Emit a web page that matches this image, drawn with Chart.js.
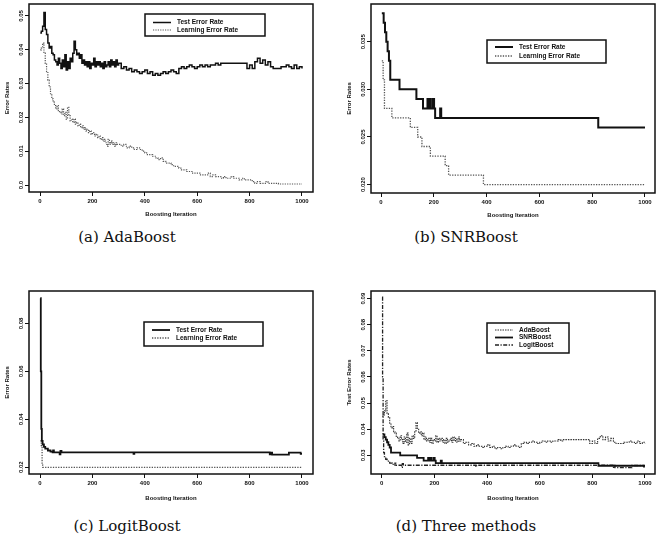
<!DOCTYPE html>
<html>
<head>
<meta charset="utf-8">
<script src="https://cdn.jsdelivr.net/npm/chart.js@4.4.0/dist/chart.umd.min.js"></script>
<style>
  body { margin: 0; background: #fff; }
  #page { position: relative; width: 664px; height: 542px; overflow: hidden; }
  canvas { position: absolute; }
  .cap { position: absolute; width: 240px; text-align: center; font: 15px "DejaVu Serif"; line-height: 1; color: #111; }
</style>
</head>
<body>
<div id="page">
  <canvas id="chartA" width="330" height="225" style="left:0;top:0"></canvas>
  <canvas id="chartB" width="322" height="225" style="left:342px;top:0"></canvas>
  <canvas id="chartC" width="330" height="225" style="left:0;top:280px"></canvas>
  <canvas id="chartD" width="322" height="225" style="left:342px;top:280px"></canvas>
  <div class="cap" style="left:7px;top:230px">(a) AdaBoost</div>
  <div class="cap" style="left:346px;top:230px">(b) SNRBoost</div>
  <div class="cap" style="left:7px;top:519px">(c) LogitBoost</div>
  <div class="cap" style="left:346px;top:519px">(d) Three methods</div>
</div>
<script>
// boosting iterations sampled for the AdaBoost curves (denser early on)
const iterAda = [
  1, 5, 10, 15, 20, 25, 30, 35, 40, 45, 50, 55, 60, 65, 70, 75, 80, 85, 90, 95,
  100, 105, 110, 115, 120, 125, 130, 135, 140, 145, 150, 155, 160, 165, 170, 175, 180, 185, 190, 195,
  200, 205, 210, 215, 220, 225, 230, 235, 240, 245, 250, 255, 260, 265, 270, 275, 280, 285, 290, 295,
  300, 310, 320, 330, 340, 350, 360, 370, 380, 390,
  400, 410, 420, 430, 440, 450, 460, 470, 480, 490,
  500, 510, 520, 530, 540, 550, 560, 570, 580, 590,
  600, 610, 620, 630, 640, 650, 660, 670, 680, 690,
  700, 710, 720, 730, 740, 750, 760, 770, 780, 790,
  800, 810, 820, 830, 840, 850, 860, 870, 880, 890,
  900, 910, 920, 930, 940, 950, 960, 970, 980, 990,
  1000
];
const adaTest = [
  0.045, 0.0455, 0.047, 0.051, 0.046, 0.0445, 0.042, 0.0405, 0.041, 0.039, 0.0385, 0.037, 0.0365, 0.0355, 0.0375, 0.036, 0.0345, 0.037, 0.035, 0.0385,
  0.034, 0.0365, 0.0345, 0.0375, 0.0365, 0.039, 0.0425, 0.040, 0.0385, 0.039, 0.0375, 0.0385, 0.036, 0.037, 0.0355, 0.0365, 0.035, 0.0365, 0.0345, 0.036,
  0.0355, 0.0375, 0.035, 0.0365, 0.0355, 0.0365, 0.035, 0.036, 0.0345, 0.0365, 0.035, 0.0355, 0.0365, 0.035, 0.037, 0.0355, 0.0365, 0.035, 0.037, 0.0355,
  0.036, 0.0345, 0.035, 0.034, 0.0345, 0.0335, 0.034, 0.0335, 0.033, 0.0335,
  0.034, 0.033, 0.0335, 0.0325, 0.033, 0.0325, 0.033, 0.0335, 0.033, 0.0335,
  0.034, 0.0335, 0.033, 0.0345, 0.035, 0.0345, 0.035, 0.0355, 0.035, 0.0345,
  0.035, 0.0355, 0.035, 0.0355, 0.035, 0.0355, 0.0355, 0.036, 0.0355, 0.036,
  0.036, 0.036, 0.036, 0.036, 0.036, 0.036, 0.036, 0.036, 0.036, 0.0345,
  0.0355, 0.0345, 0.0365, 0.0375, 0.036, 0.037, 0.0355, 0.0365, 0.035, 0.0345,
  0.0345, 0.0345, 0.035, 0.035, 0.0355, 0.035, 0.0345, 0.0355, 0.0345, 0.035,
  0.0345
];
const adaLearn = [
  0.040, 0.0405, 0.042, 0.039, 0.036, 0.0335, 0.031, 0.029, 0.027, 0.0255, 0.0245, 0.0235, 0.0225, 0.0235, 0.022, 0.0215, 0.021, 0.0225, 0.0205, 0.0215,
  0.0195, 0.023, 0.0205, 0.019, 0.0195, 0.0185, 0.0195, 0.018, 0.0185, 0.0175, 0.018, 0.017, 0.0175, 0.0165, 0.017, 0.016, 0.0165, 0.0155, 0.016, 0.015,
  0.0155, 0.015, 0.0145, 0.015, 0.014, 0.0145, 0.0135, 0.014, 0.013, 0.0135, 0.0125, 0.0115, 0.0135, 0.012, 0.013, 0.012, 0.0125, 0.0115, 0.0125, 0.012,
  0.012, 0.0115, 0.012, 0.011, 0.0115, 0.011, 0.0105, 0.011, 0.0105, 0.010,
  0.0095, 0.009, 0.009, 0.0085, 0.008, 0.0075, 0.008, 0.007, 0.0065, 0.0065,
  0.006, 0.0055, 0.0055, 0.005, 0.0045, 0.0045, 0.004, 0.004, 0.0035, 0.0035,
  0.0035, 0.003, 0.003, 0.003, 0.0035, 0.0025, 0.003, 0.0025, 0.0025, 0.002,
  0.0025, 0.002, 0.002, 0.0025, 0.002, 0.002, 0.0015, 0.002, 0.0015, 0.0015,
  0.0015, 0.001, 0.0005, 0.001, 0.0005, 0.0005, 0.001, 0.0005, 0.0005, 0.0005,
  0.0005, 0.0003, 0.0003, 0.0003, 0.0003, 0.0003, 0.0003, 0.0003, 0.0003, 0.0003,
  0.0003
];

// SNRBoost: iterations where the error changes, and the new value
const iterSnrTest = [3, 10, 15, 20, 25, 30, 35, 70, 134, 159, 176, 180, 184, 188, 196, 201, 205, 224, 228, 823, 1000];
const snrTest = [0.038, 0.037, 0.036, 0.035, 0.034, 0.033, 0.031, 0.030, 0.029, 0.028, 0.029, 0.028, 0.029, 0.028, 0.029, 0.028, 0.027, 0.028, 0.027, 0.026, 0.026];
const iterSnrLearn = [3, 8, 13, 41, 111, 139, 155, 187, 243, 256, 388, 1000];
const snrLearn = [0.033, 0.031, 0.028, 0.027, 0.026, 0.025, 0.024, 0.023, 0.022, 0.021, 0.020, 0.020];

// LogitBoost
const iterLogitTest = [1, 3, 5, 7, 10, 15, 20, 30, 40, 48, 50, 53, 72, 75, 78, 82, 355, 357, 360, 872, 877, 882, 886, 945, 950, 990, 995, 1000];
const logitTest = [0.0905, 0.060, 0.036, 0.031, 0.0295, 0.0285, 0.0278, 0.027, 0.0265, 0.0262, 0.027, 0.0262, 0.0262, 0.0254, 0.0268, 0.0262, 0.0262, 0.0256, 0.0262, 0.0262, 0.0254, 0.0261, 0.0253, 0.0253, 0.0261, 0.0261, 0.0256, 0.0256];
const iterLogitLearn = [1, 5, 8, 10, 1000];
const logitLearn = [0.031, 0.029, 0.021, 0.020, 0.020];

// axis ticks
const xTickValues = [0, 200, 400, 600, 800, 1000];
const yTicksA = [0, 0.01, 0.02, 0.03, 0.04, 0.05];
const yLabelsA = ["0.0", "0.01", "0.02", "0.03", "0.04", "0.05"];
const yTicksB = [0.020, 0.025, 0.030, 0.035];
const yLabelsB = ["0.020", "0.025", "0.030", "0.035"];
const yTicksC = [0.02, 0.04, 0.06, 0.08];
const yLabelsC = ["0.02", "0.04", "0.06", "0.08"];
const yTicksD = [0.03, 0.04, 0.05, 0.06, 0.07, 0.08, 0.09];
const yLabelsD = ["0.03", "0.04", "0.05", "0.06", "0.07", "0.08", "0.09"];

const axisFont = { family: "Liberation Sans", size: 6, weight: "bold" };
const ink = "#111";

function pts(xs, ys) {
  return xs.map((x, i) => ({ x: x, y: ys[i] }));
}

// box round the plot, rotated y labels and the inset legend
const framePlugin = {
  id: "frame",
  afterDraw(chart, args, opts) {
    const ctx = chart.ctx;
    const a = chart.chartArea;
    ctx.save();
    ctx.strokeStyle = ink;
    ctx.lineWidth = 1.5;
    ctx.strokeRect(a.left, a.top, a.right - a.left, a.bottom - a.top);

    const ys = chart.scales.y;
    ctx.font = "bold 6px 'Liberation Sans'";
    ctx.fillStyle = ink;
    ctx.textAlign = "center";
    ctx.textBaseline = "middle";
    ys.ticks.forEach((t, i) => {
      ctx.save();
      ctx.translate(a.left - 8, ys.getPixelForValue(t.value));
      ctx.rotate(-Math.PI / 2);
      ctx.fillText(opts.yLabels[i], 0, 0);
      ctx.restore();
    });

    const L = opts.legend;
    ctx.lineWidth = 1.5;
    ctx.strokeRect(L.x, L.y, L.w, L.h);
    ctx.font = "bold 6.5px 'Liberation Sans'";
    chart.data.datasets.forEach((ds, i) => {
      const ry = L.y + L.rowTop + i * L.rowGap;
      ctx.save();
      ctx.strokeStyle = ds.borderColor;
      ctx.lineWidth = ds.borderWidth;
      ctx.setLineDash(ds.borderDash || []);
      ctx.beginPath();
      ctx.moveTo(L.x + 8, ry);
      ctx.lineTo(L.x + 26, ry);
      ctx.stroke();
      ctx.restore();
      ctx.textAlign = "left";
      ctx.fillText(ds.label, L.x + 32, ry);
    });
    ctx.restore();
  }
};

function makeChart(id, datasets, cfg) {
  return new Chart(document.getElementById(id), {
    type: "line",
    data: { datasets: datasets },
    plugins: [framePlugin],
    options: {
      responsive: false,
      animation: false,
      devicePixelRatio: 1,
      layout: { padding: { left: 0, top: cfg.top, right: cfg.right, bottom: 0 } },
      elements: { point: { radius: 0 }, line: { tension: 0 } },
      plugins: {
        legend: { display: false },
        tooltip: { enabled: false },
        frame: { yLabels: cfg.yLabels, legend: cfg.legend }
      },
      scales: {
        x: {
          type: "linear",
          min: cfg.xMin,
          max: cfg.xMax,
          afterBuildTicks: s => { s.ticks = xTickValues.map(v => ({ value: v })); },
          afterFit: s => { s.height = cfg.xAxisH; },
          border: { display: false },
          grid: { drawOnChartArea: false, drawTicks: true, tickLength: 4, color: ink, tickColor: ink },
          ticks: { font: axisFont, color: ink, padding: 2, maxRotation: 0, callback: v => String(v) },
          title: { display: true, text: "Boosting Iteration", font: axisFont, color: ink, padding: { top: 0, bottom: cfg.xTitlePad } }
        },
        y: {
          type: "linear",
          min: cfg.yMin,
          max: cfg.yMax,
          afterBuildTicks: s => { s.ticks = cfg.yTicks.map(v => ({ value: v })); },
          afterFit: s => { s.width = 29; },
          border: { display: false },
          grid: { drawOnChartArea: false, drawTicks: true, tickLength: 4, color: ink, tickColor: ink },
          ticks: { display: false },
          title: { display: true, text: cfg.yTitle, font: axisFont, color: ink, padding: { top: 3.4, bottom: 0 } }
        }
      }
    }
  });
}

// (a) AdaBoost
makeChart("chartA", [
  { label: "Test Error Rate", data: pts(iterAda, adaTest), stepped: true, borderColor: "#111", borderWidth: 1.5 },
  { label: "Learning Error Rate", data: pts(iterAda, adaLearn), stepped: true, borderColor: "#555", borderWidth: 1.2, borderDash: [1.2, 1.2] }
], {
  xMin: -42, xMax: 1042, yMin: -0.00207, yMax: 0.05355,
  yTicks: yTicksA, yLabels: yLabelsA, yTitle: "Error Rates",
  top: 4, right: 17, xAxisH: 33, xTitlePad: 7.4,
  legend: { x: 145, y: 14, w: 120, h: 22, rowTop: 8.5, rowGap: 7.5 }
});

// (b) SNRBoost
makeChart("chartB", [
  { label: "Test Error Rate", data: pts(iterSnrTest, snrTest), stepped: true, borderColor: "#111", borderWidth: 2 },
  { label: "Learning Error Rate", data: pts(iterSnrLearn, snrLearn), stepped: true, borderColor: "#555", borderWidth: 1.3, borderDash: [1.3, 1.3] }
], {
  xMin: -38, xMax: 1038, yMin: 0.01912, yMax: 0.03896,
  yTicks: yTicksB, yLabels: yLabelsB, yTitle: "Error Rates",
  top: 4, right: 9, xAxisH: 32, xTitlePad: 6.4,
  legend: { x: 145, y: 40, w: 119, h: 23, rowTop: 7, rowGap: 9 }
});

// (c) LogitBoost
makeChart("chartC", [
  { label: "Test Error Rate", data: pts(iterLogitTest, logitTest), stepped: true, borderColor: "#111", borderWidth: 1.8 },
  { label: "Learning Error Rate", data: pts(iterLogitLearn, logitLearn), stepped: true, borderColor: "#555", borderWidth: 1.3, borderDash: [1.3, 1.3] }
], {
  xMin: -42, xMax: 1042, yMin: 0.0172, yMax: 0.0935,
  yTicks: yTicksC, yLabels: yLabelsC, yTitle: "Error Rates",
  top: 11, right: 17, xAxisH: 31, xTitlePad: 2.9,
  legend: { x: 144, y: 42, w: 119, h: 24, rowTop: 8, rowGap: 8 }
});

// (d) the three methods together
makeChart("chartD", [
  { label: "AdaBoost", data: pts(iterAda, adaTest), stepped: true, borderColor: "#333", borderWidth: 1.1, borderDash: [1.5, 1] },
  { label: "SNRBoost", data: pts(iterSnrTest, snrTest), stepped: true, borderColor: "#111", borderWidth: 1.8 },
  { label: "LogitBoost", data: pts(iterLogitTest, logitTest), stepped: true, borderColor: "#222", borderWidth: 1.3, borderDash: [4, 1.5, 1.2, 1.5] }
], {
  xMin: -41, xMax: 1038, yMin: 0.02285, yMax: 0.0929,
  yTicks: yTicksD, yLabels: yLabelsD, yTitle: "Test Error Rates",
  top: 11, right: 9, xAxisH: 31, xTitlePad: 2.9,
  legend: { x: 145, y: 43, w: 82, h: 30, rowTop: 7, rowGap: 7.5 }
});
</script>
</body>
</html>
